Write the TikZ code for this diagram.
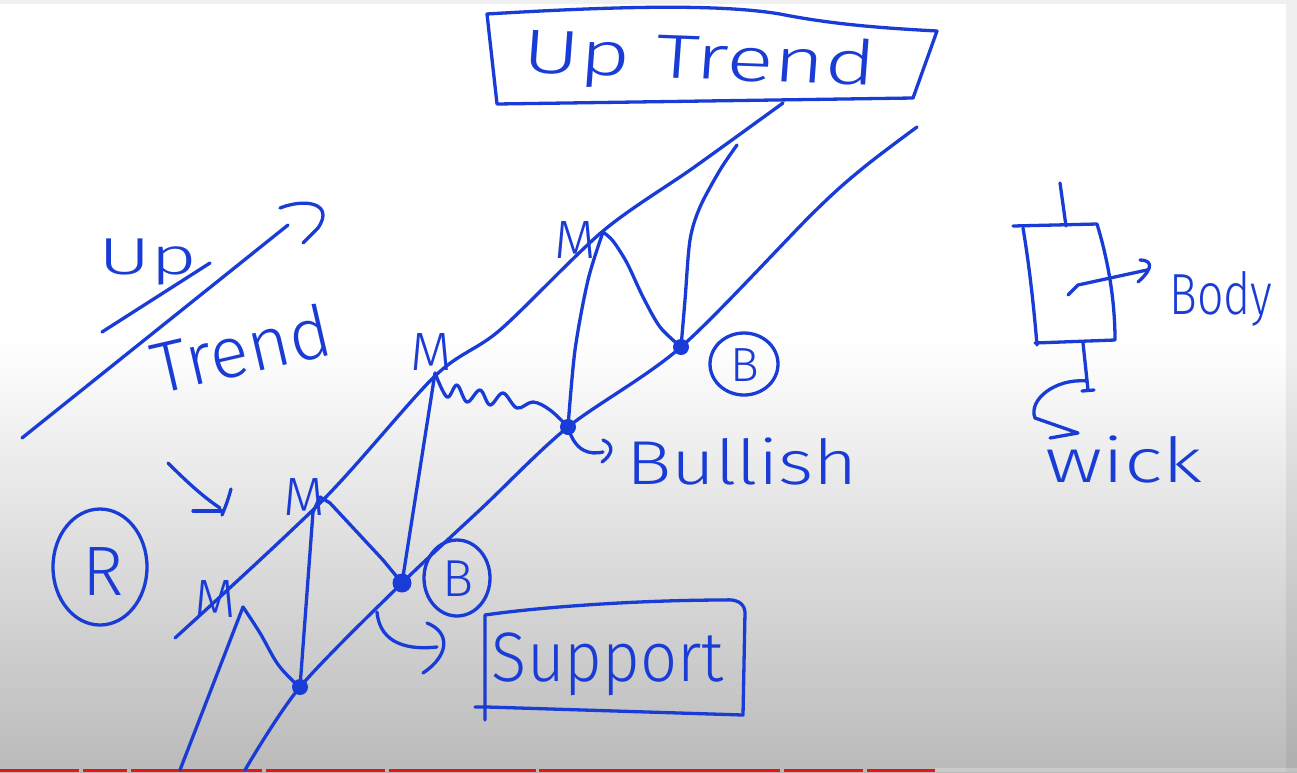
\documentclass[tikz,border=0pt]{standalone}
\usepackage{fontspec}
\usetikzlibrary{shapes.geometric}
\IfFontExistsTF{Fira Sans Light}{\newfontfamily\hand{Fira Sans Light}}{\newfontfamily\hand{Fira Sans}}
\newcommand\handfs[1]{\hand\fontsize{#1}{#1}\selectfont}
\definecolor{ink}{RGB}{26,60,214}
\definecolor{bgbot}{RGB}{186,186,186}
\definecolor{barred}{RGB}{228,22,22}
\begin{document}
\begin{tikzpicture}[x=1pt,y=-1pt,
  pen/.style={draw=ink,line width=3.3pt,line cap=round,line join=round},
  dotmark/.style={circle,fill=ink,inner sep=0pt,minimum size=16pt},
  lbl/.style={text=ink,inner sep=0pt,anchor=base},
  ringmark/.style={draw=ink,line width=3.3pt,ellipse}
  ]
\useasboundingbox (0,0) rectangle (1297,772);
% background
\fill[white] (0,0) rectangle (1297,772);
\shade[top color=white,bottom color=bgbot] (0,340) rectangle (1297,772);
\fill[black,opacity=0.06] (0,0) rectangle (1297,4);
\fill[black,opacity=0.06] (1286,4) rectangle (1297,772);
\fill[white,opacity=0.25] (935,768) rectangle (1297,772);
\foreach \a/\b in {0/79,83/127,131/262,266/385,389/536,539/780,784/863,867/935}
  \fill[barred] (\a,768.5) rectangle (\b,772);

% key points
\coordinate (start) at (180,770);
\coordinate (m1) at (243,607);
\coordinate (m2) at (320,497);
\coordinate (m3) at (435,373);
\coordinate (m4) at (603,232);
\coordinate (top) at (737,145);
\node[dotmark] (d1) at (300,687) {};
\node[dotmark,minimum size=19pt] (d2) at (402,583) {};
\node[dotmark] (d3) at (568,427) {};
\node[dotmark] (d4) at (681,347) {};

% resistance and support lines
\draw[pen] plot[smooth,tension=0.5] coordinates {(175,638) (323,500) (435,376) (500,330) (603,231) (693,168) (783,103)};
\draw[pen] plot[smooth,tension=0.5] coordinates {(245,770) (300,687) (402,583) (483,507) (568,427) (681,347) (813,213) (863,168) (917,127)};

% price path
\draw[pen] (start) -- (m1);
\draw[pen] plot[smooth,tension=0.6] coordinates {(m1) (260,633) (277,663) (293,681) (d1.center)};
\draw[pen] (d1.center) -- (313,512) -- (m2);
\draw[pen] (m2) -- (330,503) -- (383,560) -- (d2.center);
\draw[pen] (d2.center) -- (m3);
\draw[pen] plot[smooth,tension=0.6] coordinates {(m3) (447,397) (457,385) (467,402) (480,390) (490,405) (503,393) (517,408) (533,402) (550,410) (d3.center)};
\draw[pen] plot[smooth,tension=0.5] coordinates {(d3.center) (575,350) (588,280) (m4)};
\draw[pen] plot[smooth,tension=0.5] coordinates {(m4) (613,241) (627,263) (643,297) (660,327) (d4.center)};
\draw[pen] plot[smooth,tension=0.5] coordinates {(d4.center) (685,300) (690,240) (700,207) (720,170) (top)};

% M labels
\node[lbl,font=\handfs{54}] (lm1) at (215,617) {M};
\node[lbl,font=\handfs{54}] (lm2) at (304,515) {M};
\node[lbl,font=\handfs{54}] (lm3) at (431,370) {M};
\node[lbl,font=\handfs{54}] (lm4) at (575,258) {M};

% circled B and R
\node[ringmark,minimum width=66pt,minimum height=76pt] (cb1) at (457,578) {};
\node[lbl,font=\handfs{52}] at (458,596) {B};
\node[ringmark,minimum width=68pt,minimum height=62pt] (cb2) at (744,364) {};
\node[lbl,font=\handfs{48}] at (745,381) {B};
\node[ringmark,minimum width=94pt,minimum height=116pt] (cr) at (100,567) {};
\node[lbl,font=\handfs{70}] at (103,595) {R};

% arrow towards resistance
\coordinate (ra1) at (168,463);
\coordinate (ra2) at (220,508);
\draw[pen] (ra1) .. controls (190,485) and (205,498) .. (ra2);
\draw[pen] (193,511) -- (223,511);
\draw[pen] (231,489) .. controls (228,500) and (225,508) .. (222,515);

% left Up Trend arrow
\coordinate (la1) at (22,438);
\coordinate (la2) at (288,225);
\draw[pen] (la1) -- (la2);
\draw[pen] (280,208) .. controls (305,198) and (335,203) .. (318,228) -- (303,243);
\draw[pen] (102,332) -- (210,263);
\node[lbl,font=\handfs{52},xscale=1.55] (up) at (148,274) {Up};
\node[lbl,font=\handfs{72},rotate=13] (trend) at (247,374) {Trend};

% Up Trend title box
\draw[pen] (497,104) -- (487,14) .. controls (620,6) and (720,4) .. (780,14) .. controls (830,24) and (880,28) .. (937,31) -- (913,98) -- cycle;
\node[lbl,font=\handfs{62},xscale=1.42,rotate=-3] (title) at (698,79) {Up Trend};
\coordinate (tb) at (783,103);

% support arrow and box
\draw[pen] (377,612) .. controls (380,645) and (410,650) .. (437,647);
\draw[pen] (427,623) .. controls (450,632) and (450,655) .. (423,673);
\draw[pen] (475,707) -- (487,707) -- (743,715) -- (745,612) .. controls (744,602) and (735,599) .. (725,600) .. controls (640,600) and (540,607) .. (485,615) -- (485,720);
\node[lbl,font=\handfs{70},xscale=0.93] (support) at (608,681) {Support};

% bullish arrow
\draw[pen] (d3.center) .. controls (575,452) and (590,455) .. (603,452);
\draw[pen] (603,440) .. controls (615,445) and (612,455) .. (602,462);
\node[lbl,font=\handfs{62},xscale=1.22] (bull) at (742,484) {Bullish};

% candlestick
\draw[pen] (1060,183) -- (1066,226);
\draw[pen] (1013,226) -- (1097,224) .. controls (1108,260) and (1115,300) .. (1115,340) -- (1035,343);
\draw[pen] (1023,228) .. controls (1030,270) and (1034,310) .. (1037,345);
\draw[pen] (1083,343) -- (1088,390);
\draw[pen] (1082,391) -- (1094,390);
% body arrow
\draw[pen] (1068,295) -- (1078,285) -- (1147,270);
\draw[pen] (1140,260) .. controls (1150,260) and (1156,266) .. (1138,282);
\node[lbl,font=\handfs{58},xscale=0.8] (body) at (1221,314) {Body};
% wick arrow
\draw[pen] (1087,381) .. controls (1055,378) and (1028,400) .. (1035,418) -- (1078,433) -- (1050,438);
\node[lbl,font=\handfs{62},xscale=1.32] (wick) at (1124,482) {wick};
\end{tikzpicture}
\end{document}
